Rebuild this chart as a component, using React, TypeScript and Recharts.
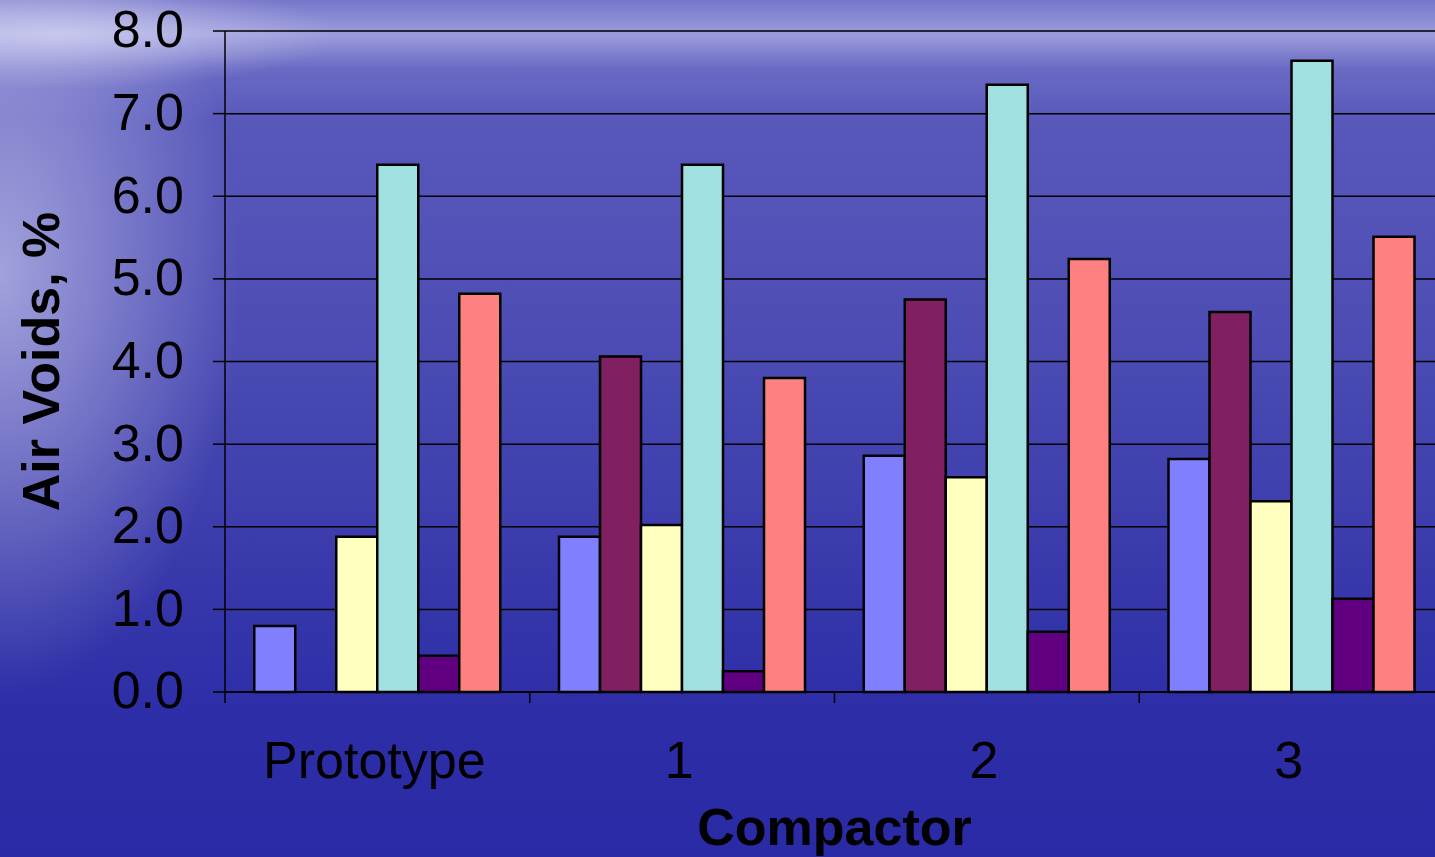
import React from "react"
import { Bar, BarChart, CartesianGrid, XAxis, YAxis } from "recharts"

const compactors = ["Prototype", "1", "2", "3"]
const seriesA = [0.8, 1.88, 2.86, 2.82]
const seriesB = [null, 4.06, 4.75, 4.6]
const seriesC = [1.88, 2.02, 2.6, 2.31]
const seriesD = [6.38, 6.38, 7.35, 7.64]
const seriesE = [0.44, 0.25, 0.73, 1.13]
const seriesF = [4.82, 3.8, 5.24, 5.51]
const yTicks = [0, 1, 2, 3, 4, 5, 6, 7, 8]

const series = [
  { key: "a", values: seriesA, color: "#8080FF" },
  { key: "b", values: seriesB, color: "#802060" },
  { key: "c", values: seriesC, color: "#FFFFC0" },
  { key: "d", values: seriesD, color: "#A0E0E0" },
  { key: "e", values: seriesE, color: "#600080" },
  { key: "f", values: seriesF, color: "#FF8080" },
]

const data = compactors.map((name, i) => {
  const row: any = { name }
  series.forEach((s) => (row[s.key] = s.values[i]))
  return row
})

const FONT = "'Liberation Sans', Arial, sans-serif"

function CategoryTick(props: any) {
  const { x, y, payload, width, visibleTicksCount, index } = props
  const band = (width ?? 1219) / (visibleTicksCount ?? 4)
  const left = x - band / 2
  return (
    <g>
      <line x1={left} x2={left} y1={y} y2={y + 11} stroke="#000" strokeWidth={1.5} />
      {index === (visibleTicksCount ?? 4) - 1 && (
        <line x1={left + band} x2={left + band} y1={y} y2={y + 11} stroke="#000" strokeWidth={1.5} />
      )}
      <text x={x - 3} y={y + 86} textAnchor="middle" fontSize={52} fontFamily={FONT} fill="#000">
        {payload.value}
      </text>
    </g>
  )
}

function YTitle(props: any) {
  const vb = props.viewBox || { y: 31, height: 661 }
  const cy = vb.y + vb.height / 2
  return (
    <text
      x={59}
      y={cy}
      transform={`rotate(-90, 59, ${cy})`}
      textAnchor="middle"
      fontSize={52}
      fontWeight="bold"
      fontFamily={FONT}
      fill="#000"
    >
      Air Voids, %
    </text>
  )
}

export default function App() {
  return (
    <div
      style={{
        position: "absolute",
        left: 0,
        top: 0,
        width: 1435,
        height: 857,
        overflow: "hidden",
        background: [
          "radial-gradient(ellipse 240px 420px at 0% 32%, rgba(205,205,240,0.65), rgba(205,205,240,0) 100%)",
          "radial-gradient(ellipse 280px 55px at 4% 4%, rgba(225,225,248,0.6), rgba(225,225,248,0) 100%)",
          "linear-gradient(to bottom, #7676ca 0%, #9c9cdc 4%, #6a6ac4 8%, #5858bb 14%, #4c4cb4 40%, #3a3aac 65%, #2e2ea8 82%, #2a2aa6 100%)",
        ].join(", "),
      }}
    >
      <BarChart
        width={1460}
        height={857}
        data={data}
        margin={{ top: 31, right: 16, bottom: 0, left: 0 }}
        barCategoryGap="9.6%"
        barGap={0}
      >
        <CartesianGrid vertical={false} stroke="#000" strokeWidth={1.5} />
        <XAxis
          dataKey="name"
          height={165}
          axisLine={{ stroke: "#000", strokeWidth: 1.5 }}
          tickLine={false}
          tickSize={0}
          tickMargin={0}
          tick={<CategoryTick />}
          interval={0}
          label={{
            value: "Compactor",
            position: "insideBottom",
            offset: 12,
            fontSize: 52,
            fontWeight: "bold",
            fontFamily: FONT,
            fill: "#000",
          }}
        />
        <YAxis
          width={225}
          domain={[0, 8]}
          ticks={yTicks}
          interval={0}
          tickFormatter={(v: number) => v.toFixed(1)}
          axisLine={{ stroke: "#000", strokeWidth: 1.5 }}
          tickLine={{ stroke: "#000", strokeWidth: 1.5 }}
          tickSize={12}
          tickMargin={29}
          tick={{ fontSize: 52, fontFamily: FONT, fill: "#000", dy: -2 }}
          label={<YTitle />}
        />
        {series.map((s) => (
          <Bar
            key={s.key}
            dataKey={s.key}
            fill={s.color}
            stroke="#000"
            strokeWidth={2.5}
            isAnimationActive={false}
          />
        ))}
      </BarChart>
    </div>
  )
}
